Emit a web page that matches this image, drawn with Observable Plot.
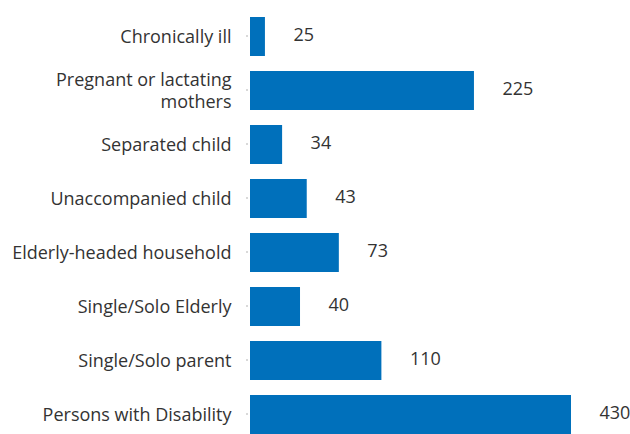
<!DOCTYPE html>
<html>
<head>
<meta charset="utf-8">
<script src="https://cdn.jsdelivr.net/npm/d3@7"></script>
<script src="https://cdn.jsdelivr.net/npm/@observablehq/plot@0.6"></script>
<style>
  html, body { margin: 0; padding: 0; background: #fff; }
  #chart svg { display: block; }
</style>
</head>
<body>
<div id="chart"></div>
<script>
// Categories, top to bottom
const categories = [
  "Chronically ill",
  "Pregnant or lactating\nmothers",
  "Separated child",
  "Unaccompanied child",
  "Elderly-headed household",
  "Single/Solo Elderly",
  "Single/Solo parent",
  "Persons with Disability"
];
// Printed value labels
const valueLabels = [25, 225, 34, 43, 73, 40, 110, 430];
// Bar lengths as drawn in the picture (scaled so the longest bar = 430)
const barLengths = [20, 300, 43, 76, 119, 67, 176, 430];

const data = categories.map((c, i) => ({cat: c, len: barLengths[i], label: String(valueLabels[i])}));

const font = "'Open Sans', Lato, sans-serif";

const chart = Plot.plot({
  width: 630,
  height: 434,
  marginTop: 0,
  marginBottom: 0,
  marginLeft: 250,
  marginRight: 0,
  style: {fontFamily: font, fontSize: "18px", color: "#333", background: "#fff"},
  x: {domain: [0, 430], range: [250, 571], axis: null},
  y: {domain: categories, range: [9.5, 441.5], paddingInner: 0.278, paddingOuter: 0.139, label: null},
  marks: [
    Plot.barX(data, {x: "len", y: "cat", fill: "#0070bb"}),
    Plot.ruleX([0], {stroke: "#b3b3b3", strokeWidth: 2, dx: -1, y1: 9, y2: 434, y: null}),
    Plot.axisY({tickSize: 2, stroke: "#b3b3b3", fill: "#333", tickPadding: 15, fontSize: 18, lineHeight: 1.2, textAnchor: "end", dx: -2, dy: -1}),
    Plot.text(data, {x: "len", y: "cat", text: "label", textAnchor: "start", dx: 28, dy: -2, fill: "#333", fontSize: 18})
  ]
});
document.getElementById("chart").appendChild(chart);
</script>
</body>
</html>
